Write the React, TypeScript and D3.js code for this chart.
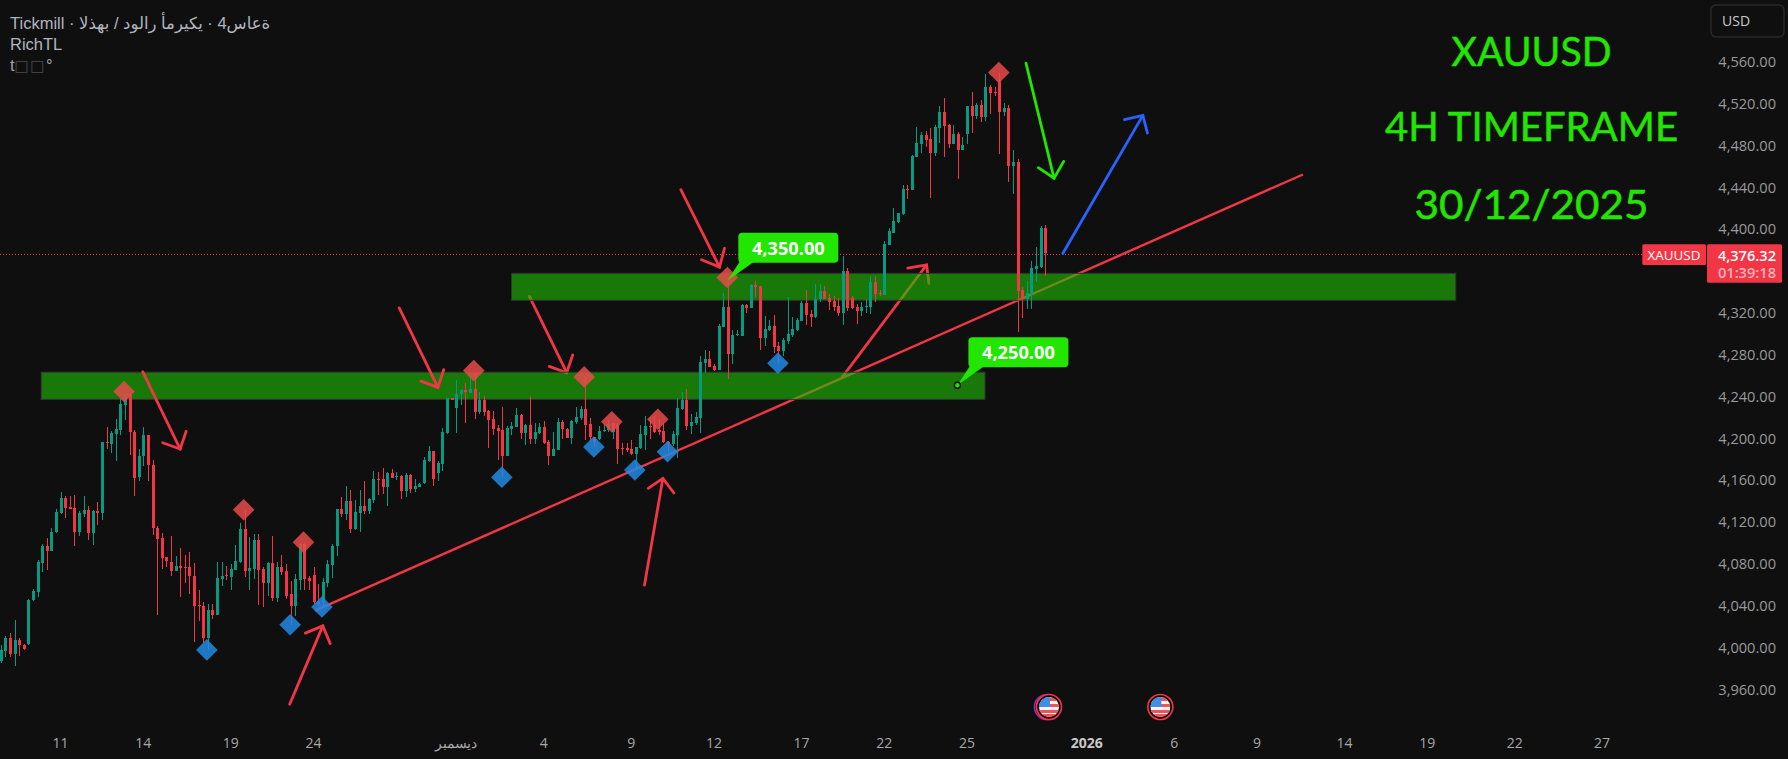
import React from "react";
import * as d3 from "d3";

type Bar = [number, number, number, number];
// open, high, low, close
const barsNovember: Bar[] = [
[3986,4002,3984,3997],[3996,4010,3990,4008],[4008,4013,3990,3993],[3993,4026,3982,4006],[4006,4008,3991,4002],[4002,4003,3997,3998],
[4003,4046,4002,4045],[4045,4055,4044,4053],[4052,4083,4048,4081],[4080,4098,4071,4096],[4096,4104,4073,4092],[4092,4114,4092,4110],
[4110,4132,4109,4129],[4128,4148,4127,4142],[4142,4144,4123,4133],[4134,4144,4132,4132],[4133,4145,4096,4110],[4110,4130,4106,4128],
[4127,4144,4124,4131],[4131,4135,4102,4109],[4109,4131,4097,4130],[4130,4138,4116,4128],[4128,4196,4121,4196],[4196,4210,4189,4195],
[4194,4206,4185,4204],[4203,4218,4178,4208],[4207,4237,4202,4232],[4231,4243,4217,4242],[4241,4242,4183,4205],[4205,4207,4144,4161],
[4162,4189,4158,4182],[4182,4210,4173,4202],[4202,4202,4158,4174],[4174,4179,4107,4114],[4114,4115,4030,4103],[4104,4109,4074,4085],
[4086,4086,4076,4082],[4081,4106,4068,4072],[4072,4087,4072,4077],[4077,4094,4048,4075],[4076,4088,4061,4075],[4076,4091,4050,4068],
[4068,4080,4005,4039],[4040,4054,4025,4039],[4039,4043,4004,4008],[4008,4041,3997,4035],[4035,4041,4027,4030],[4030,4081,4030,4066],
[4065,4081,4058,4068],[4069,4077,4064,4068],[4067,4079,4054,4074],[4073,4097,4073,4082],[4081,4118,4080,4113],[4113,4131,4067,4072],
[4072,4105,4054,4075],[4074,4108,4065,4102],[4102,4108,4040,4073],[4074,4076,4038,4061],[4061,4081,4049,4080],[4080,4106,4044,4047],
[4047,4081,4043,4076],[4076,4088,4069,4071],[4072,4079,4046,4049],[4050,4063,4021,4039],[4039,4070,4029,4065],[4064,4099,4054,4098],
[4098,4099,4054,4065],[4066,4068,4054,4063],[4069,4076,4041,4043],[4043,4060,4039,4041],[4043,4066,4039,4062],[4061,4083,4057,4079],
[4078,4098,4066,4096],[4096,4132,4087,4132],[4132,4143,4124,4127],[4127,4154,4121,4139],[4139,4150,4109,4113],[4113,4140,4112,4129],
[4128,4150,4110,4135],[4135,4158,4127,4130],[4130,4142,4127,4141],[4140,4168,4137,4160],[4160,4167,4145,4159],[4160,4171,4146,4153],
[4153,4167,4135,4166],[4166,4170,4161,4161],[4162,4167,4159,4163],[4163,4164,4141,4149],[4149,4166,4143,4164],[4164,4165,4147,4151],
[4151,4160,4148,4154],[4153,4157,4153,4156],[4157,4181,4156,4179],[4178,4192,4177,4187],[4187,4187,4154,4160],[4166,4178,4158,4176],
[4175,4209,4168,4205],[4204,4238,4203,4238],
];
const barsDecember: Bar[] = [
[4238,4238,4236,4236],[4228,4255,4204,4242],[4242,4246,4231,4245],[4245,4252,4214,4244],[4243,4261,4243,4246],[4246,4263,4218,4224],
[4224,4244,4223,4236],[4236,4240,4221,4224],[4225,4226,4190,4217],[4218,4225,4202,4208],[4209,4212,4179,4206],[4207,4229,4162,4182],
[4182,4211,4182,4209],[4208,4215,4202,4211],[4210,4228,4210,4222],[4222,4223,4199,4204],[4204,4213,4193,4212],[4212,4240,4194,4199],
[4199,4214,4194,4205],[4204,4214,4203,4210],[4210,4216,4194,4195],[4196,4198,4174,4182],[4182,4205,4182,4189],[4188,4219,4188,4215],
[4215,4217,4199,4208],[4208,4209,4200,4200],[4200,4217,4194,4216],[4215,4229,4213,4220],[4219,4230,4217,4227],[4227,4258,4198,4212],
[4213,4219,4197,4201],[4201,4201,4191,4196],[4199,4211,4198,4206],[4206,4213,4205,4207],[4207,4217,4205,4213],[4205,4214,4199,4214],
[4212,4214,4175,4189],[4190,4195,4183,4189],[4190,4195,4186,4188],[4189,4198,4183,4184],[4184,4191,4169,4191],[4190,4212,4189,4203],
[4202,4221,4188,4211],[4211,4219,4199,4210],[4212,4221,4204,4205],[4207,4218,4202,4205],[4206,4214,4195,4196],[4196,4197,4186,4194],
[4194,4206,4192,4203],[4202,4238,4180,4228],[4227,4244,4226,4236],[4236,4246,4207,4211],[4211,4223,4203,4215],[4214,4224,4212,4220],
[4219,4278,4204,4272],[4271,4284,4262,4275],[4275,4283,4267,4267],[4268,4270,4264,4265],[4265,4309,4265,4307],[4306,4338,4306,4325],
[4325,4352,4256,4280],[4280,4303,4270,4298],[4298,4303,4297,4299],[4297,4328,4297,4327],[4327,4328,4319,4324],[4324,4347,4324,4346],
[4346,4350,4334,4344],[4345,4345,4284,4295],[4295,4316,4288,4304],[4303,4312,4302,4307],[4307,4317,4281,4287],[4288,4291,4271,4283],
[4283,4295,4278,4293],[4292,4334,4289,4299],[4298,4315,4296,4304],[4303,4314,4302,4312],[4311,4331,4311,4329],[4329,4341,4308,4317],
[4318,4322,4306,4315],[4315,4347,4314,4332],[4332,4347,4330,4340],[4340,4345,4332,4332],[4333,4337,4322,4330],[4331,4335,4321,4325],
[4326,4333,4316,4319],[4319,4374,4308,4359],[4359,4362,4321,4324],[4333,4335,4323,4324],[4325,4328,4309,4321],[4321,4330,4316,4325],
[4325,4332,4319,4326],[4325,4354,4318,4349],[4349,4354,4330,4337],[4338,4341,4335,4337],
];
const barsYearEnd: Bar[] = [
[4336,4388,4336,4385],[4384,4400,4384,4397],[4396,4419,4396,4407],[4406,4415,4405,4415],[4414,4441,4413,4438],[4438,4441,4428,4437],
[4437,4470,4437,4469],[4468,4497,4468,4482],[4481,4492,4472,4489],[4489,4493,4478,4484],[4485,4496,4429,4472],[4472,4499,4469,4497],
[4496,4517,4482,4511],[4511,4525,4468,4498],[4499,4500,4477,4481],[4481,4499,4481,4490],[4490,4492,4447,4475],[4475,4487,4475,4480],
[4490,4517,4481,4517],[4517,4530,4491,4507],[4507,4520,4505,4518],[4518,4523,4502,4506],[4506,4548,4503,4535],[4535,4537,4509,4529],
[4530,4535,4527,4529],[4542,4549,4471,4511],[4511,4520,4507,4515],[4515,4518,4444,4460],[4460,4475,4433,4463],[4463,4466,4301,4340],
[4341,4344,4314,4332],[4332,4350,4323,4338],[4337,4369,4323,4362],[4361,4382,4349,4364],[4363,4402,4362,4400],[4400,4403,4354,4376],
];
const bars: Bar[] = [...barsNovember, ...barsDecember, ...barsYearEnd];

const priceTicks = [4560,4520,4480,4440,4400,4360,4320,4280,4240,4200,4160,4120,4080,4040,4000,3960];
const timeTicks: [number, string, boolean][] = [
  [13,"11",false],[31,"14",false],[50,"19",false],[68,"24",false],[99,"ديسمبر",false],[118,"4",false],[137,"9",false],
  [155,"12",false],[174,"17",false],[192,"22",false],[210,"25",false],[236,"2026",true],[255,"6",false],[273,"9",false],
  [292,"14",false],[310,"19",false],[329,"22",false],[348,"27",false],
];
const lastPrice = 4376.32;
const countdown = "01:39:18";
const zones = [
  { from: 8.8, to: 213.9, hi: 4262.5, lo: 4236.5 },
  { from: 111, to: 316.2, hi: 4357, lo: 4331.2 },
];
type P = [number, number];
const trendLine: P[] = [[68.3,4034.5],[283,4451.5]];
// shaft start, tip, head barb A, head barb B
type Arrow = { start: P; tip: P; a: P; b: P };
const redArrowsUnder: Arrow[] = [
  { start:[114.9,4335], tip:[123,4262], a:[119.2,4268], b:[124.3,4279] },
  { start:[182.75,4257], tip:[201.2,4365], a:[197.1,4362], b:[201.7,4347.5] },
];
const redArrowsOver: Arrow[] = [
  { start:[30.86,4263], tip:[39,4189], a:[35.2,4195], b:[40.3,4206] },
  { start:[86.6,4324], tip:[95,4248], a:[91.3,4254], b:[96.3,4265] },
  { start:[62.8,3945], tip:[70,4020], a:[66.2,4013], b:[71.6,4003] },
  { start:[139.9,4059], tip:[143.9,4161], a:[140.7,4151.5], b:[146.3,4147] },
  { start:[147.8,4437], tip:[156.2,4363], a:[152.3,4370], b:[157.3,4381] },
];
const greenArrow: Arrow = { start:[222.8,4558], tip:[228.9,4448], a:[225.5,4458], b:[231,4464] };
const blueArrow: Arrow = { start:[230.8,4376], tip:[248.2,4508], a:[244.2,4504], b:[249.2,4491] };
const redDiamonds: P[] = [[26.8,4244],[52.8,4131],[65.8,4100],[102.8,4264],[126.8,4258],[132.8,4215],[142.8,4217.5],[157.9,4353],[216.9,4549]];
const blueDiamonds: P[] = [[44.8,3997],[62.9,4021],[69.8,4038],[108.9,4162],[128.9,4191],[137.8,4169],[144.9,4186.5],[168.9,4271]];
const callouts: { bar: number; price: number; text: string }[] = [
  { bar: 157.9, price: 4350, text: "4,350.00" },
  { bar: 207.9, price: 4250, text: "4,250.00" },
];
const eventBars = [227.8, 252];
const titleLines = ["XAUUSD", "4H TIMEFRAME", "30/12/2025"];
const headerLines = ["Tickmill · الذهب / دولار أمريكي · 4ساعة", "RichTL"];

const BG = "#0f0f0f";
const UP = "#089981";
const DOWN = "#f23645";
const GREEN = "#22e600";
const UI = "'Open Sans', sans-serif";

const x = d3.scaleLinear().domain([0, 227]).range([0.7, 1045.3]);
const y = d3.scaleLinear().domain([4560, 3960]).range([61, 688.6]);
const line = d3.line<P>().x((d) => x(d[0])).y((d) => y(d[1]));
const pathOf = (p: P[]) => line(p) as string;

function ArrowMark({ arrow, color }: { arrow: Arrow; color: string }) {
  return (
    <g fill="none" stroke={color} strokeWidth={2.8} strokeLinecap="round" strokeLinejoin="miter">
      <path d={pathOf([arrow.start, arrow.tip])} />
      <path d={pathOf([arrow.a, arrow.tip, arrow.b])} />
    </g>
  );
}

function Diamond({ p, fill }: { p: P; fill: string }) {
  const cx = x(p[0]), cy = y(p[1]), r = 10.8;
  return <path d={`M${cx},${cy - r}L${cx + r},${cy}L${cx},${cy + r}L${cx - r},${cy}Z`} fill={fill} opacity={0.85} />;
}

function Flag({ bar }: { bar: number }) {
  const cx = x(bar), cy = 707, id = `flag-${bar}`.replace(".", "_");
  const stripes = [-9, -3, 3];
  return (
    <g>
      {bar < 230 && <circle cx={cx - 2} cy={cy} r={12.5} fill={BG} stroke="#9c27b0" strokeWidth={1.6} />}
      <circle cx={cx} cy={cy} r={12.5} fill="#0a0a0a" stroke={DOWN} strokeWidth={1.6} />
      <clipPath id={id}><circle cx={cx} cy={cy} r={10} /></clipPath>
      <g clipPath={`url(#${id})`}>
        <rect x={cx - 10} y={cy - 10} width={20} height={20} fill="#f5f5f5" />
        {stripes.map((s) => <rect key={s} x={cx - 10} y={cy + s} width={20} height={3} fill="#f4505a" />)}
        <rect x={cx - 10} y={cy + 7} width={20} height={3} fill="#f4505a" />
        <rect x={cx - 10} y={cy - 10} width={11} height={10} fill="#3f8fe8" />
      </g>
    </g>
  );
}

export default function App() {
  return (
    <svg width={1788} height={759} style={{ position: "absolute", left: 0, top: 0, display: "block" }}>
      <rect width={1788} height={759} fill={BG} />

      <line x1={0} x2={1642} y1={Math.round(y(lastPrice)) + 1.5} y2={Math.round(y(lastPrice)) + 1.5} stroke={DOWN} strokeWidth={1} strokeDasharray="1 2" />

      <path d={pathOf(trendLine)} fill="none" stroke={DOWN} strokeWidth={2.4} />
      {redArrowsUnder.map((a, i) => <ArrowMark key={i} arrow={a} color={DOWN} />)}

      {zones.map((z, i) => (
        <rect key={i} x={x(z.from)} y={y(z.hi)} width={x(z.to) - x(z.from)} height={y(z.lo) - y(z.hi)}
          fill="rgb(30,190,3)" fillOpacity={0.6} stroke="#333" strokeWidth={1} />
      ))}

      {bars.map((b, i) => {
        const [o, h, l, c] = b;
        const cx = Math.round(x(i));
        const color = c >= o ? UP : DOWN;
        const top = Math.round(y(Math.max(o, c)));
        const bot = Math.round(y(Math.min(o, c)));
        return (
          <g key={i} fill={color}>
            <rect x={cx} y={Math.round(y(h))} width={1} height={Math.max(1, Math.round(y(l)) - Math.round(y(h)))} />
            <rect x={cx - 1} y={top} width={3} height={Math.max(1, bot - top)} />
          </g>
        );
      })}

      {redDiamonds.map((p, i) => <Diamond key={i} p={p} fill="rgb(233,74,74)" />)}
      {blueDiamonds.map((p, i) => <Diamond key={i} p={p} fill="rgb(34,138,228)" />)}

      {redArrowsOver.map((a, i) => <ArrowMark key={i} arrow={a} color={DOWN} />)}
      <ArrowMark arrow={greenArrow} color={GREEN} />
      <ArrowMark arrow={blueArrow} color="#2962ff" />

      {callouts.map((c, i) => {
        const ax = x(c.bar), ay = y(c.price);
        return (
          <g key={i}>
            <path d={`M${ax},${ay}L${ax + 13},${ay - 20}L${ax + 28},${ay - 20}Z`} fill={GREEN} />
            <rect x={ax + 11} y={ay - 48} width={100} height={30} rx={4} fill={GREEN} />
            <text x={ax + 61} y={ay - 33} textAnchor="middle" dominantBaseline="central" fill="#fff"
              fontFamily={UI} fontSize={18.2} fontWeight={700}>{c.text}</text>
            {i === 1 && <circle cx={ax} cy={ay} r={3} fill={GREEN} stroke="#0a0a0a" strokeWidth={1.4} />}
          </g>
        );
      })}

      {titleLines.map((t, i) => (
        <text key={t} x={1531.5} y={[50, 125.5, 203][i]} textAnchor="middle" dominantBaseline="central"
          fill={GREEN} stroke={GREEN} strokeWidth={0.5} fontFamily="Lato, sans-serif" fontSize={41}
          textLength={[160, 293, 234][i]} lengthAdjust="spacingAndGlyphs">{t}</text>
      ))}

      <g fontFamily="'Liberation Sans', 'DejaVu Sans', sans-serif" fontSize={16.5} fill="#b2b5be">
        <text x={10} y={29} style={{ unicodeBidi: "bidi-override", direction: "ltr" }}>{headerLines[0]}</text>
        <text x={10} y={50}>{headerLines[1]}</text>
        <text x={10} y={71} opacity={0.9}>t<tspan fontFamily="'DejaVu Sans'" fontSize={15} letterSpacing={1.5} fill="#555">□□</tspan>°</text>
      </g>

      {priceTicks.map((p) => (
        <text key={p} x={1776} y={y(p)} textAnchor="end" dominantBaseline="central" fill="#9a9a9a" fontFamily={UI} fontSize={14.6}>
          {d3.format(",.2f")(p)}
        </text>
      ))}

      <rect x={1711} y={5} width={73} height={32} rx={5} fill={BG} stroke="#2a2a2a" strokeWidth={1.4} />
      <text x={1722} y={20.5} dominantBaseline="central" fill="#c8c8c8" fontFamily={UI} fontSize={14}>USD</text>

      <rect x={1642.3} y={244.3} width={63.7} height={20.7} rx={1.5} fill={DOWN} />
      <text x={1674} y={254.8} textAnchor="middle" dominantBaseline="central" fill="#fff" fontFamily={UI} fontSize={13.4}>XAUUSD</text>
      <rect x={1707} y={244.3} width={75} height={38.4} rx={1.5} fill={DOWN} />
      <text x={1776} y={254.5} textAnchor="end" dominantBaseline="central" fill="#fff" fontFamily={UI} fontSize={14.6} fontWeight={600}>{d3.format(",.2f")(lastPrice)}</text>
      <text x={1776} y={272} textAnchor="end" dominantBaseline="central" fill="#ffb3ba" fontFamily={UI} fontSize={14.6} fontWeight={600}>{countdown}</text>

      {eventBars.map((b) => <Flag key={b} bar={b} />)}

      {timeTicks.map(([b, t, strong]) => (
        <text key={`${b}${t}`} x={x(b)} y={742} textAnchor="middle" dominantBaseline="central"
          fill={strong ? "#c8c8c8" : "#a8a8a8"} fontFamily={UI} fontSize={14} fontWeight={strong ? 700 : 400}>{t}</text>
      ))}
    </svg>
  );
}
